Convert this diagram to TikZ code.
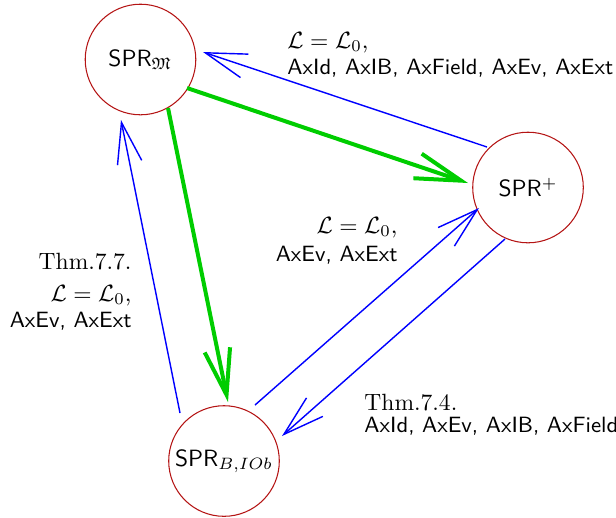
\documentclass[tikz,border=0pt]{standalone}
\usepackage{amssymb}
\usetikzlibrary{arrows.meta,calc}
\definecolor{circred}{RGB}{180,20,20}
\definecolor{arrblue}{RGB}{0,0,255}
\definecolor{arrgreen}{RGB}{0,205,0}
\newcommand{\axsf}[1]{{\fontsize{9.4}{11}\sffamily #1}}
\tikzset{
  state/.style={circle,draw=circred,line width=0.45pt,minimum size=47pt,inner sep=0pt,font=\sffamily},
  blueedge/.style={draw=arrblue,line width=0.6pt,-{Straight Barb[length=17.5pt,width=10.5pt]}},
  greenedge/.style={draw=arrgreen,line width=1.7pt,-{Straight Barb[length=19.5pt,width=11pt]}},
  lbl/.style={inner sep=0pt}
}
\begin{document}
\begin{tikzpicture}[x=0.425pt,y=-0.425pt]
\useasboundingbox (0,0) rectangle (616,517);
\node[state] (m) at (140.5,59.5) {SPR$_{\mathfrak{M}}$};
\node[state] (p) at (528,187.5) {SPR$^{+}$};
\node[state] (b) at (224,461) {SPR$_{B,IOb}$};

\draw[blueedge] ($(p)+(-41,-40.5)$) -- ($(m)+(62.5,-7.5)$);
\draw[blueedge] ($(b)+(-44,-48)$) -- ($(m)+(-19.5,60.5)$);
\draw[blueedge] ($(b)+(31,-56)$) -- ($(p)+(-49,20.5)$);
\draw[blueedge] ($(p)+(-23,51.5)$) -- ($(b)+(58,-25)$);
\draw[greenedge] ($(m)+(46.5,28.5)$) -- ($(p)+(-60,-4.5)$);
\draw[greenedge] ($(m)+(27.5,48.5)$) -- ($(b)+(4,-59)$);

\node[lbl,anchor=base west] (a1) at (287,48) {$\mathcal{L}=\mathcal{L}_0$,};
\node[lbl,anchor=base west] (a2) at (287,74) {\axsf{AxId, AxIB, AxField, AxEv, AxExt}};

\node[lbl,anchor=base east] (b1) at (398,233) {$\mathcal{L}=\mathcal{L}_0$,};
\node[lbl,anchor=base east] (b2) at (398,261) {\axsf{AxEv, AxExt}};

\node[lbl,anchor=base east] (c0) at (132,269) {Thm.7.7.};
\node[lbl,anchor=base east] (c1) at (132,301) {$\mathcal{L}=\mathcal{L}_0$,};
\node[lbl,anchor=base east] (c2) at (132,327) {\axsf{AxEv, AxExt}};

\node[lbl,anchor=base west] (d0) at (364,410) {Thm.7.4.};
\node[lbl,anchor=base west] (d1) at (364,432) {\axsf{AxId, AxEv, AxIB, AxField}};
\end{tikzpicture}
\end{document}
